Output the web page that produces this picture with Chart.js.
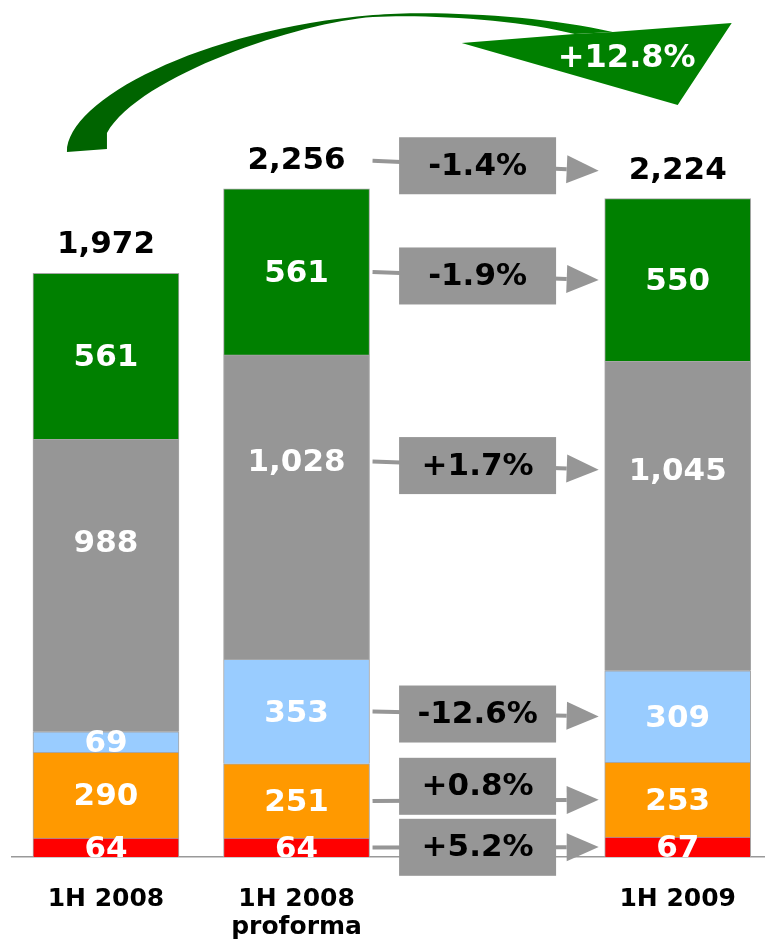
<!DOCTYPE html>
<html>
<head>
<meta charset="utf-8">
<script src="https://cdn.jsdelivr.net/npm/chart.js@4"></script>
<style>
  body { margin: 0; background: #fff; }
</style>
</head>
<body>
<canvas id="segmentChart" width="765" height="950"></canvas>
<script>
// periods, the third slot is left empty for the change boxes
var periods = ['1H 2008', ['1H 2008', 'proforma'], '1H 2009'];
var slots = [0, 1, 3];

// segment values, bottom to top
var redVals = [64, 64, 67];
var orangeVals = [290, 251, 253];
var blueVals = [69, 353, 309];
var greyVals = [988, 1028, 1045];
var greenVals = [561, 561, 550];
var totals = [1972, 2256, 2224];

// change proforma -> 1H 2009 : total, green, grey, blue, orange, red
var changes = ['-1.4%', '-1.9%', '+1.7%', '-12.6%', '+0.8%', '+5.2%'];
var totalChange = '+12.8%';

var FONT = '"DejaVu Sans", Verdana, sans-serif';

function points(vals) {
  return slots.map(function (s, i) { return { x: s, y: vals[i] }; });
}

function fmt(v) { return v.toLocaleString('en-US'); }

var overlay = {
  id: 'overlay',
  afterDatasetsDraw: function (chart) {
    var ctx = chart.ctx;
    var xs = chart.scales.x;
    var area = chart.chartArea;
    var sets = chart.data.datasets;

    // where each value label sits
    var labelY = sets.map(function (ds, d) {
      var f = ds.labelPos || 0.5;
      return chart.getDatasetMeta(d).data.map(function (bar) {
        return bar.base + (bar.y - bar.base) * f;
      });
    });

    ctx.save();
    ctx.font = 'bold 31px ' + FONT;
    ctx.textAlign = 'center';
    ctx.textBaseline = 'middle';

    // values inside the bars
    ctx.save();
    ctx.beginPath();
    ctx.rect(area.left, area.top, area.right - area.left, area.bottom - area.top);
    ctx.clip();
    ctx.fillStyle = '#fff';
    sets.forEach(function (ds, d) {
      chart.getDatasetMeta(d).data.forEach(function (bar, i) {
        ctx.fillText(fmt(ds.data[i].y), bar.x, labelY[d][i] + 2);
      });
    });
    ctx.restore();

    // totals on top
    var topMeta = chart.getDatasetMeta(sets.length - 1);
    var totalY = topMeta.data.map(function (bar) { return bar.y - 28; });
    ctx.fillStyle = '#000';
    topMeta.data.forEach(function (bar, i) {
      ctx.fillText(fmt(totals[i]), bar.x, totalY[i]);
    });

    // change arrows from proforma to 1H 2009
    var rows = [{ a: totalY[1], b: totalY[2] }];
    for (var d = sets.length - 1; d >= 0; d--) {
      rows.push({ a: labelY[d][1], b: labelY[d][2] });
    }
    var boxW = 157, boxH = 57, gap = 4;
    var boxX = xs.getPixelForValue(1.95);
    var centers = rows.map(function (r) { return (r.a + r.b) / 2; });
    for (var k = centers.length - 2; k >= 0; k--) {
      centers[k] = Math.min(centers[k], centers[k + 1] - boxH - gap);
    }
    var x1 = xs.getPixelForValue(1) + 76;
    var x2 = xs.getPixelForValue(3) - 79;
    var headL = 32, headW = 14;
    ctx.strokeStyle = '#969696';
    ctx.fillStyle = '#969696';
    ctx.lineWidth = 4;
    rows.forEach(function (r) {
      var ang = Math.atan2(r.b - r.a, x2 - x1);
      var bx = x2 - headL * Math.cos(ang), by = r.b - headL * Math.sin(ang);
      ctx.beginPath();
      ctx.moveTo(x1, r.a);
      ctx.lineTo(bx, by);
      ctx.stroke();
      ctx.beginPath();
      ctx.moveTo(x2, r.b);
      ctx.lineTo(bx - headW * Math.sin(ang), by + headW * Math.cos(ang));
      ctx.lineTo(bx + headW * Math.sin(ang), by - headW * Math.cos(ang));
      ctx.closePath();
      ctx.fill();
    });
    ctx.font = 'bold 31px ' + FONT;
    centers.forEach(function (c, k) {
      ctx.fillStyle = '#969696';
      ctx.fillRect(boxX - boxW / 2, c - boxH / 2, boxW, boxH);
      ctx.fillStyle = '#000';
      ctx.fillText(changes[k], boxX, c + 1);
    });

    // big curved arrow 1H 2008 -> 1H 2009
    var x0 = xs.getPixelForValue(0), x3 = xs.getPixelForValue(3);
    var grad = ctx.createLinearGradient(x0 + 250, 0, x3 - 90, 0);
    grad.addColorStop(0, '#006400');
    grad.addColorStop(1, '#008000');
    ctx.fillStyle = grad;
    ctx.beginPath();
    ctx.moveTo(x0 - 39, 152);
    ctx.bezierCurveTo(x0 - 39, 100, x0 + 94, 30, x0 + 267, 15);
    ctx.bezierCurveTo(x0 + 327, 10, x3 - 138, 15, x3 - 65, 32);
    ctx.lineTo(x3 - 103, 34);
    ctx.bezierCurveTo(x3 - 158, 20, x0 + 324, 14, x0 + 267, 17);
    ctx.bezierCurveTo(x0 + 194, 22, x0 + 34, 75, x0 + 1, 133);
    ctx.lineTo(x0 + 1, 149);
    ctx.closePath();
    ctx.fill();
    ctx.fillStyle = '#008000';
    ctx.beginPath();
    ctx.moveTo(x3 - 216, 43);
    ctx.lineTo(x3 - 103, 34);
    ctx.lineTo(x3 - 65, 32);
    ctx.lineTo(x3 + 54, 23);
    ctx.lineTo(x3, 105);
    ctx.closePath();
    ctx.fill();
    ctx.fillStyle = '#fff';
    ctx.font = 'bold 32px ' + FONT;
    ctx.fillText(totalChange, x3 - 51, 59);

    ctx.restore();
  }
};

var ctx = document.getElementById('segmentChart').getContext('2d');
var segmentChart = new Chart(ctx, {
  type: 'bar',
  data: {
    datasets: [
      { data: points(redVals), backgroundColor: '#FF0000' },
      { data: points(orangeVals), backgroundColor: '#FF9900' },
      { data: points(blueVals), backgroundColor: '#99CCFF' },
      { data: points(greyVals), backgroundColor: '#969696', labelPos: 0.65 },
      { data: points(greenVals), backgroundColor: '#008000' }
    ]
  },
  options: {
    responsive: false,
    animation: false,
    datasets: {
      bar: {
        barThickness: 146,
        borderColor: '#a6a6a6',
        borderWidth: 1
      }
    },
    layout: {
      padding: { left: 12, right: 0, top: 0, bottom: 0 }
    },
    plugins: {
      legend: {
        display: false
      },
      tooltip: {
        enabled: false
      }
    },
    scales: {
      x: {
        type: 'linear',
        stacked: true,
        offset: false,
        min: -0.493,
        max: 3.456,
        grid: {
          display: false,
          offset: false,
          drawTicks: false
        },
        border: {
          display: true,
          color: '#999999',
          width: 1.5
        },
        afterBuildTicks: function (axis) {
          axis.ticks = slots.map(function (s) { return { value: s }; });
        },
        afterFit: function (axis) {
          axis.height = 93;
        },
        ticks: {
          padding: 29,
          autoSkip: false,
          maxRotation: 0,
          color: '#000',
          font: { family: FONT, size: 25, weight: 'bold', lineHeight: 1.1 },
          callback: function (v) { return periods[slots.indexOf(v)]; }
        }
      },
      y: {
        display: false,
        stacked: true,
        min: 0,
        max: 2895
      }
    }
  },
  plugins: [overlay]
});
</script>
</body>
</html>
